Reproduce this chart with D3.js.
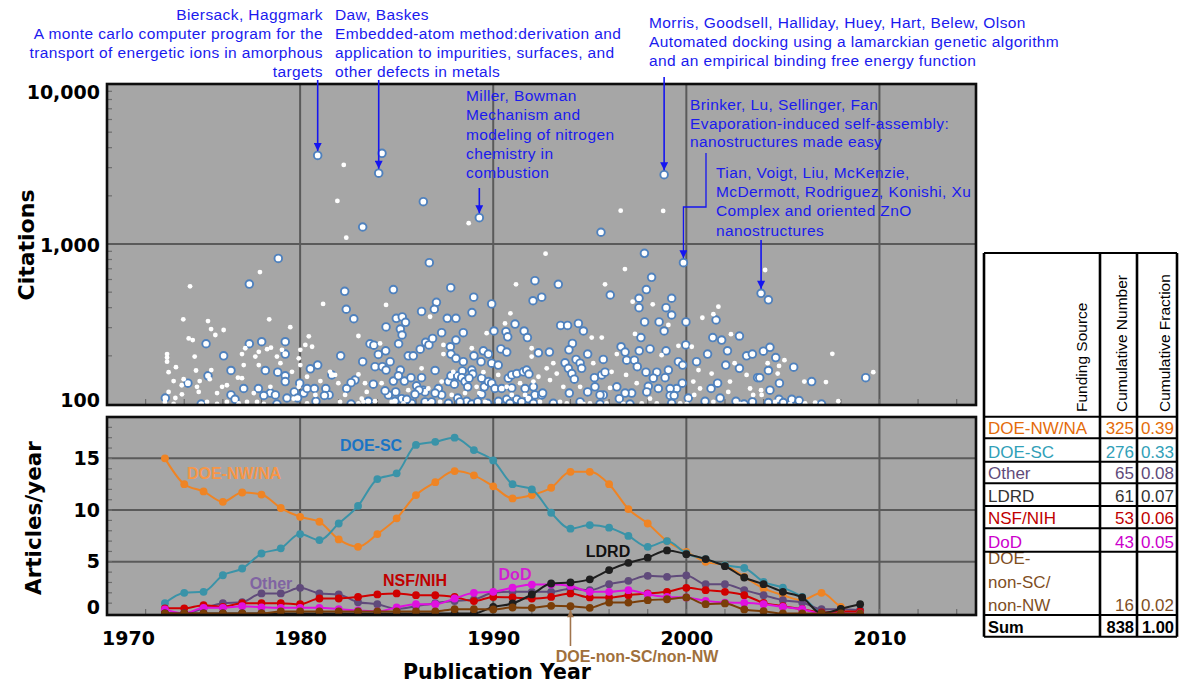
<!DOCTYPE html>
<html>
<head>
<meta charset="utf-8">
<script src="https://cdn.jsdelivr.net/npm/d3@7"></script>
<style>
  body { margin: 0; background: #fff; }
  svg { display: block; }
</style>
</head>
<body>
<svg id="chart" width="1180" height="685"></svg>
<script>
// ---------------- data ----------------
// Articles per publication year, by funding source
const years = [1973,1974,1975,1976,1977,1978,1979,1980,1981,1982,1983,1984,1985,1986,1987,1988,1989,1990,
  1991,1992,1993,1994,1995,1996,1997,1998,1999,2000,2001,2002,2003,2004,2005,2006,2007,2008,2009];
const doeNwNa = [15.0,12.5,11.8,10.8,11.7,11.5,10.2,9.35,8.87,7.16,6.45,7.68,9.2,11.45,12.7,13.77,13.36,12.3,
  11.13,11.45,12.16,13.7,13.7,12.5,10.1,8.7,7.0,5.96,5.0,4.67,3.55,2.42,1.77,1.29,2.0,0.64,0.0];
const doeSc = [1.0,2.0,2.1,3.7,4.35,5.8,6.3,7.68,7.1,8.7,10.4,13.0,13.55,16.3,16.6,17.0,15.8,14.8,
  12.5,12.0,9.74,8.2,8.55,8.3,7.5,6.45,7.0,5.8,5.26,4.67,4.4,3.06,2.5,1.6,0.2,0.15,0.3];
const otherSrc = [0,0,0.5,1.0,1.1,1.94,1.94,2.48,1.94,1.84,1.09,0.9,0.45,0.7,1.0,1.2,1.35,2.0,
  2.1,2.1,2.1,2.4,2.25,2.84,3.16,3.64,3.55,3.68,2.84,2.84,2.26,1.77,1.29,1.06,0.42,0.42,0.32];
const ldrd = [0,0,0,0,0,0,0,0,0,0,0,0,0,0,0,0,0,0.64,
  0.97,1.84,2.9,3.0,3.3,4.2,4.9,5.4,6.1,5.74,5.26,4.58,3.48,2.84,2.1,1.55,0,0.45,0.9];
const nsfNih = [0.5,0.5,0.8,0.64,1.0,1.0,1.0,0.9,1.45,1.45,1.6,1.84,1.94,1.77,1.77,1.6,1.2,1.6,
  1.55,1.45,1.6,1.94,1.55,1.55,1.77,1.94,2.1,2.48,2.26,2.1,1.77,1.03,0.71,0.42,0.1,0.2,0.2];
const dod = [0.4,0,0.55,0.55,0.7,0.6,0.55,0.55,0.55,0.42,0.3,0.2,0.6,0.9,0.9,1.45,2.0,2.1,
  2.5,2.8,2.8,2.67,2.1,2.1,2.26,1.87,1.6,1.55,1.22,1.06,1.03,0.9,0.64,0.42,0,0,0];
const doeNonScNonNw = [0,0,0,0,0,0,0.2,0.2,0.2,0.2,0.2,0.2,0.2,0.2,0.2,0.42,0.42,0.39,
  0.58,0.55,0.74,0.7,0.55,1.06,1.06,1.29,1.38,1.55,0.9,0.97,0.39,0.22,0,0,0,0,0];

// Individual articles: [publication year, citations]
const ringedArticles = [
  [1980.91,3580],[1984.07,2770],[1984.24,3690],[1989.28,1460],[1986.38,1840],[1998.85,2710],[1995.58,1184],
  [1999.85,764],[1997.83,875],[2003.87,492],[2004.25,448],[1983.24,1277],[1978.87,812],[1977.37,562],
  [1982.31,506],[1984.83,519],[1982.39,391],[1982.78,341],[1986.69,764],[1987.8,533],[1992.16,590],
  [1987.06,432],[1986.95,391],[1988.99,465],[1989.92,422],[1988.9,373],[1986.29,379],[1987.62,343],
  [1988.07,343],[1984.98,343],[1985.29,350],[1985.46,324],[1984.45,303],[1985.19,294],[1985.28,270],
  [1985.1,238],[1983.62,238],[1983.82,233],[1984.05,204],[1984.43,215],[1982.1,200],[1983.24,184],
  [1983.88,171],[1984.26,171],[1984.66,184],[1985.6,200],[1985.86,200],[1986.22,220],[1986.5,243],
  [1986.67,234],[1986.86,257],[1987.33,279],[1988.45,279],[1988.07,251],[1987.78,228],[1987.81,205],
  [1988.07,193],[1988.45,184],[1989.0,200],[1989.37,184],[1989.49,215],[1989.75,205],[1990.04,286],
  [1989.92,180],[1990.26,175],[1990.4,221],[1990.7,211],[1990.66,283],[1990.75,263],[1991.13,316],
  [1991.6,286],[1991.77,260],[1992.06,442],[1992.51,465],[1992.34,209],[1981.64,152],[1982.84,141],
  [1982.64,136],[1982.41,125],[1983.79,133],[1984.45,163],[1985.19,163],[1984.83,139],[1985.09,150],
  [1985.4,139],[1985.74,146],[1986.03,130],[1986.29,146],[1986.38,122],[1986.99,162],[1987.16,125],
  [1987.68,138],[1987.81,150],[1987.99,133],[1988.16,150],[1988.4,161],[1988.37,146],[1988.54,138],
  [1988.89,163],[1988.94,154],[1988.75,145],[1988.68,128],[1989.4,145],[1989.54,128],[1989.75,138],
  [1989.92,135],[1990.09,125],[1990.44,125],[1990.78,145],[1990.96,152],[1991.22,155],[1991.56,159],
  [1991.73,163],[1991.85,154],[1991.65,125],[1992.08,128],[1992.16,114],[1990.96,126],[1991.22,107],
  [1990.7,107],[1990.27,104],[1989.71,101],[1989.4,115],[1988.63,104],[1988.16,109],[1987.33,114],
  [1986.99,117],[1986.47,119],[1986.16,122],[1985.95,115],[1985.26,108],[1984.91,104],[1984.57,114],
  [1984.4,121],[1984.95,119],[1982.64,100],[1981.5,114],[1985.78,101],[1986.47,103],[1987.68,101],
  [1988.89,100],[1990.87,101],[1991.82,108],[1992.51,114],[1992.08,101],
  [1983.53,104],[1985.52,107],[1986.81,103],[1988.28,103],[1989.2,103],[1991.47,103],
  [1975.13,238],[1977.37,238],[1978.01,245],[1979.23,245],[1979.23,205],[1976.04,200],[1976.42,162],
  [1978.2,162],[1978.84,158],[1979.23,150],[1979.23,138],[1975.23,150],[1974.19,135],[1979.98,135],
  [1980.53,166],[1980.91,175],[1977.08,125],[1977.84,125],[1978.46,117],[1978.12,113],[1978.72,114],
  [1976.42,114],[1976.63,107],[1979.32,109],[1979.7,119],[1980.19,117],[1980.36,125],[1980.74,125],
  [1981.33,125],[1979.87,109],[1980.82,104],[1981.26,113],[1973.02,109],[1974.88,100],[1978.8,100],
  [1998.2,619],[1997.93,519],[1993.37,560],[1996.06,480],[1997.55,458],[1997.55,400],[1999.24,458],
  [1998.95,400],[1999.24,360],[1997.84,326],[1998.59,326],[1998.85,286],[1999.98,326],[1994.41,319],
  [1994.67,286],[1993.49,310],[1993.85,310],[1994.1,239],[1993.92,218],[1992.91,211],[1994.89,205],
  [1995.7,190],[1993.72,181],[1994.29,190],[1994.5,180],[1994.58,167],[1993.89,167],[1994.07,155],
  [1994.2,143],[1995.24,146],[1995.62,152],[1995.79,158],[1996.62,228],[1996.83,211],[1997.56,215],
  [1997.65,260],[1998.12,221],[1998.95,215],[1999.97,234],[1996.91,188],[1997.31,188],[1997.46,171],
  [1997.91,158],[1998.47,158],[1998.29,145],[1998.9,146],[1999.07,163],[1999.59,184],[1999.81,175],
  [1999.79,135],[2001.37,260],[2001.83,251],[2001.54,335],[2002.75,266],[2002.13,215],[2001.1,205],
  [2000.53,184],[2002.04,175],[2003.12,200],[2003.42,205],[2002.75,167],[2003.69,146],[2001.62,135],
  [2001.28,125],[2001.75,109],[2000.97,104],[2002.57,104],[2002.99,100],[2003.42,103],[2000.1,109],
  [1999.5,125],[1999.16,125],[1999.16,113],[1999.37,113],[1998.55,125],[1998.03,129],[1997.95,119],
  [1997.17,117],[1996.83,117],[1996.53,108],[1996.4,128],[1995.7,114],[1995.53,114],[1995.27,128],
  [1994.89,119],[1993.94,117],[1994.5,103],[1993.11,101],[1992.56,117],[1995.53,100],[1997.08,100],
  [1999.24,101],
  [2003.99,214],[2004.33,226],[2004.63,195],[2005.56,170],[2004.25,162],[2003.8,146],[2004.82,135],
  [2006.49,138],[2009.29,146],[2004.33,122],[2004.8,107],[2005.46,107],[2005.84,105],[2005.02,102],
  [2004.25,102],[2007.0,100]
];
const plainArticles = [
  [1982.26,3120],[1981.93,1858],[1982.39,1095],[1988.73,1350],[1996.6,1615],[1998.8,1610],[2004.08,688],
  [1977.92,668],[1974.3,544],[1981.19,422],[1992.71,870],
  [1973.95,338],[1975.23,330],[1978.4,338],[1975.39,294],[1975.61,270],[1976.04,290],[1979.49,302],
  [1974.23,257],[1974.44,251],[1980.45,265],[1973.11,205],[1973.11,195],[1973.11,184],[1974.54,198],
  [1973.19,158],[1973.57,170],[1974.61,162],[1975.4,163],[1973.45,139],[1973.97,143],[1974.8,139],
  [1975.32,143],[1976.99,205],[1977.16,223],[1977.68,198],[1977.86,212],[1978.29,220],[1978.49,225],
  [1978.8,198],[1979.06,218],[1978.98,180],[1977.86,175],[1977.08,175],[1976.78,146],[1976.99,145],
  [1975.96,128],[1976.21,131],[1975.7,117],[1974.66,128],[1974.75,119],[1973.88,115],[1973.54,109],
  [1973.19,119],[1980.01,218],[1980.27,234],[1980.62,228],[1979.93,193],[1980.01,175],[1979.58,159],
  [1980.36,148],[1979.93,128],[1981.05,139],[1980.79,114],[1977.6,117],[1977.77,103],[1976.21,103],
  [1977.25,103],[1975.7,100],[1973.45,100],[1979.67,108],[1978.46,128],[1973.0,103],[1973.87,131],
  [1975.18,103],[1976.82,101],[1978.12,100],[1980.36,101],
  [1991.18,560],[1984.45,416],[1986.73,351],[1983.02,266],[1984.14,239],[1989.66,277],[1990.89,369],
  [1990.61,319],[1987.42,234],[1987.42,205],[1988.89,223],[1991.99,198],[1991.99,223],[1983.02,153],
  [1981.98,135],[1981.81,152],[1983.36,135],[1983.45,119],[1984.22,135],[1983.19,108],[1982.33,114],
  [1985.6,122],[1986.29,167],[1986.64,125],[1987.33,138],[1987.93,159],[1989.49,158],[1989.28,117],
  [1990.26,152],[1992.34,148],[1992.08,138],[1991.39,135],[1990.7,128],[1989.14,128],[1988.54,117],
  [1987.85,114],[1986.64,101],[1984.74,103],[1983.88,104],[1983.28,103],[1982.07,103],[1981.55,159],
  [1989.58,103],[1990.96,114],[1991.65,114],
  [1983.02,101],[1985.35,101],[1987.25,103],[1988.28,100],[1990.26,101],[1991.47,100],[1992.42,103],
  [1996.82,697],[1995.79,560],[1998.26,420],[1997.22,436],[2001.66,406],[2000.83,346],[2001.4,364],
  [2002.31,273],[1999.07,312],[1995.62,260],[1995.1,260],[1997.34,274],[1996.4,205],[1998.72,202],
  [1999.59,231],[2000.28,228],[2000.63,163],[2001.31,155],[2002.26,138],[2003.12,152],[2003.3,125],
  [2002.5,180],[1993.11,180],[1992.77,167],[1993.29,155],[1992.94,141],[1993.63,128],[1995.18,180],
  [1996.13,159],[1996.88,152],[1994.5,128],[1996.05,126],[1997.43,135],[2000.36,138],[2000.71,125],
  [2002.17,119],[2000.41,114],[1998.12,108],[1995.87,101],[1997.69,101],[1993.81,101],[1995.01,101],
  [2000.02,100],[2003.46,114],
  [1993.46,103],[1994.67,100],[1996.74,100],[1998.47,101],[1999.68,101],[2001.4,103],[2002.78,100],
  [2007.56,206],[2009.68,158],[2005.08,188],[2004.8,173],[2004.73,155],[2006.11,138],[2007.23,137],
  [2004.21,180],[2003.87,122],[2003.9,114],[2006.67,102],[2007.87,104],[2005.38,100],
  [2004.6,103],[2006.15,101]
];

// Highly cited papers with their authors and titles
const notedPapers = [
  { year: 1980.91, citations: 3580, lines: ["Biersack, Haggmark", "A monte carlo computer program for the",
      "transport of energetic ions in amorphous", "targets"] },
  { year: 1984.07, citations: 2770, lines: ["Daw, Baskes", "Embedded-atom method:derivation and",
      "application to impurities, surfaces, and", "other defects in metals"] },
  { year: 1989.28, citations: 1460, lines: ["Miller, Bowman", "Mechanism and", "modeling of nitrogen",
      "chemistry in", "combustion"] },
  { year: 1998.85, citations: 2710, lines: ["Morris, Goodsell, Halliday, Huey, Hart, Belew, Olson",
      "Automated docking using a lamarckian genetic algorithm", "and an empirical binding free energy function"] },
  { year: 1999.85, citations: 764, lines: ["Brinker, Lu, Sellinger, Fan", "Evaporation-induced self-assembly:",
      "nanostructures made easy"] },
  { year: 2003.87, citations: 492, lines: ["Tian, Voigt, Liu, McKenzie,", "McDermott, Rodriguez, Konishi, Xu",
      "Complex and oriented ZnO", "nanostructures"] }
];

// Tick labels
const yearTicks = [1970, 1980, 1990, 2000, 2010];
const citationTicks = [100, 1000, 10000];
const articleTicks = [0, 5, 10, 15];

// Summary table
const fundingSources = ["DOE-NW/NA", "DOE-SC", "Other", "LDRD", "NSF/NIH", "DoD", "DOE-non-SC/non-NW"];
const cumulativeNumbers = [325, 276, 65, 61, 53, 43, 16];
const cumulativeFractions = ["0.39", "0.33", "0.08", "0.07", "0.06", "0.05", "0.02"];
const totalNumber = 838;
const totalFraction = "1.00";

// ---------------- layout ----------------
const svg = d3.select("#chart");
const X0 = 107, X1 = 976;
const TOP0 = 84, TOP1 = 405, BOT0 = 417, BOT1 = 615;
const x = d3.scaleLinear().domain([1970, 2015]).range([X0, X1]);
const yCit = d3.scaleLog().domain([100, 10000]).range([404, TOP0]);
const yArt = d3.scaleLinear().domain([0, 19]).range([613.5, BOT0]);

const boldFont = "'DejaVu Sans', sans-serif";
const textFont = "'Liberation Sans', Arial, sans-serif";
const gridColor = "#5a5a5a";
const plotBg = "#a6a6a6";

const defs = svg.append("defs");
defs.append("clipPath").attr("id", "clipTop").append("rect")
  .attr("x", X0).attr("y", TOP0).attr("width", X1 - X0).attr("height", TOP1 - TOP0);
defs.append("clipPath").attr("id", "clipBot").append("rect")
  .attr("x", X0).attr("y", BOT0).attr("width", X1 - X0).attr("height", BOT1 - BOT0);
function arrowMarker(id, color, w, h) {
  defs.append("marker").attr("id", id).attr("viewBox", "0 0 10 10")
    .attr("refX", 10).attr("refY", 5).attr("markerUnits", "userSpaceOnUse")
    .attr("markerWidth", w).attr("markerHeight", h).attr("orient", "auto")
    .append("path").attr("d", "M0,0 L10,5 L0,10 Z").attr("fill", color);
}
arrowMarker("arrowBlue", "#1515f0", 10, 8);
arrowMarker("arrowBrown", "#a0744c", 9, 7);

// panel backgrounds
svg.append("rect").attr("x", X0).attr("y", TOP0).attr("width", X1 - X0).attr("height", TOP1 - TOP0).attr("fill", plotBg);
svg.append("rect").attr("x", X0).attr("y", BOT0).attr("width", X1 - X0).attr("height", BOT1 - BOT0).attr("fill", plotBg);

// gridlines
const gridYears = [1980, 1990, 2000, 2010];
const grid = svg.append("g").attr("stroke", gridColor).attr("stroke-width", 2);
grid.selectAll(".vt").data(gridYears).join("line")
  .attr("x1", d => x(d)).attr("x2", d => x(d)).attr("y1", TOP0).attr("y2", TOP1);
grid.selectAll(".vb").data(gridYears).join("line")
  .attr("x1", d => x(d)).attr("x2", d => x(d)).attr("y1", BOT0).attr("y2", BOT1);
grid.append("line").attr("x1", X0).attr("x2", X1).attr("y1", yCit(1000)).attr("y2", yCit(1000));
grid.selectAll(".hb").data([5, 10, 15]).join("line")
  .attr("x1", X0).attr("x2", X1).attr("y1", d => yArt(d)).attr("y2", d => yArt(d));

// minor ticks inside the frames
const minorCit = [200,300,400,500,600,700,800,900,2000,3000,4000,5000,6000,7000,8000,9000];
const minorArt = d3.range(1, 19);
const minorYears = d3.range(1972, 2015, 2);
const ticksG = svg.append("g").attr("stroke", "#6e6e6e").attr("stroke-width", 1.2);
ticksG.selectAll(".mc").data(minorCit).join("line")
  .attr("x1", X0).attr("x2", X0 + 5).attr("y1", d => yCit(d)).attr("y2", d => yCit(d));
ticksG.selectAll(".ma").data(minorArt).join("line")
  .attr("x1", X0).attr("x2", X0 + 5).attr("y1", d => yArt(d)).attr("y2", d => yArt(d));
ticksG.selectAll(".myt").data(minorYears).join("line")
  .attr("x1", d => x(d)).attr("x2", d => x(d)).attr("y1", TOP1).attr("y2", TOP1 - 6);
ticksG.selectAll(".myb").data(minorYears).join("line")
  .attr("x1", d => x(d)).attr("x2", d => x(d)).attr("y1", BOT1).attr("y2", BOT1 - 6);

// ---------------- citation scatter ----------------
const scatter = svg.append("g").attr("clip-path", "url(#clipTop)");
scatter.selectAll(".ring").data(ringedArticles).join("circle")
  .attr("cx", d => x(d[0])).attr("cy", d => yCit(d[1])).attr("r", 3.8)
  .attr("fill", "#ffffff").attr("stroke", "#4f81bd").attr("stroke-width", 1.9);
scatter.selectAll(".dot").data(plainArticles).join("circle")
  .attr("cx", d => x(d[0])).attr("cy", d => yCit(d[1])).attr("r", 2.4)
  .attr("fill", "#ffffff");

// ---------------- articles per year ----------------
const seriesList = [
  { name: "DOE-NW/NA", values: doeNwNa, color: "#ef8424" },
  { name: "DOE-SC", values: doeSc, color: "#3a93a8" },
  { name: "Other", values: otherSrc, color: "#604a7b" },
  { name: "NSF/NIH", values: nsfNih, color: "#d00000" },
  { name: "DoD", values: dod, color: "#e010e0" },
  { name: "LDRD", values: ldrd, color: "#1e1e1e" },
  { name: "DOE-non-SC/non-NW", values: doeNonScNonNw, color: "#7a3e08" }
];
const lineGen = d3.line().x((d, i) => x(years[i])).y(d => yArt(d)).curve(d3.curveMonotoneX);
const linesG = svg.append("g").attr("clip-path", "url(#clipBot)");
seriesList.forEach(s => {
  const g = linesG.append("g");
  g.append("path").datum(s.values).attr("d", lineGen)
    .attr("fill", "none").attr("stroke", s.color).attr("stroke-width", 2);
  g.selectAll("circle").data(s.values).join("circle")
    .attr("cx", (d, i) => x(years[i])).attr("cy", d => yArt(d)).attr("r", 3.9)
    .attr("fill", s.color);
});

// frames
[[TOP0, TOP1], [BOT0, BOT1]].forEach(([a, b]) => {
  svg.append("rect").attr("x", X0).attr("y", a).attr("width", X1 - X0).attr("height", b - a)
    .attr("fill", "none").attr("stroke", "#0d0d0d").attr("stroke-width", 2.6);
});

// series labels
const seriesLabels = [
  { text: "DOE-SC", x: 371, y: 451, color: "#1a74c4" },
  { text: "DOE-NW/NA", x: 234, y: 479, color: "#f79646" },
  { text: "Other", x: 271, y: 589, color: "#8064a2" },
  { text: "NSF/NIH", x: 415, y: 586, color: "#c00000" },
  { text: "DoD", x: 515, y: 580, color: "#d21ed2" },
  { text: "LDRD", x: 608, y: 557, color: "#111111" },
  { text: "DOE-non-SC/non-NW", x: 637, y: 662, color: "#a0703c" }
];
svg.append("g").selectAll("text").data(seriesLabels).join("text")
  .attr("x", d => d.x).attr("y", d => d.y).attr("text-anchor", "middle")
  .attr("font-family", textFont).attr("font-weight", "bold").attr("font-size", 16)
  .attr("fill", d => d.color).text(d => d.text);
// pointer from the DOE-non-SC/non-NW label to its curve
const iPointer = years.indexOf(1994);
svg.append("line")
  .attr("x1", x(years[iPointer])).attr("x2", x(years[iPointer]))
  .attr("y1", 646).attr("y2", yArt(doeNonScNonNw[iPointer]) + 4)
  .attr("stroke", "#a0744c").attr("stroke-width", 1.6).attr("marker-end", "url(#arrowBrown)");

// ---------------- axes ----------------
function styleAxis(g) {
  g.select(".domain").remove();
  g.selectAll(".tick line").remove();
  g.selectAll("text").attr("font-family", boldFont).attr("font-weight", "bold")
    .attr("font-size", 19).attr("fill", "#000");
}
svg.append("g").attr("transform", `translate(${X0},0)`)
  .call(d3.axisLeft(yCit).tickValues(citationTicks).tickFormat(d3.format(",")).tickSize(0).tickPadding(7))
  .call(styleAxis)
  .selectAll("text").attr("y", d => d === 10000 ? 8 : d === 100 ? -4 : 1);
svg.append("g").attr("transform", `translate(${X0},0)`)
  .call(d3.axisLeft(yArt).tickValues(articleTicks).tickFormat(d3.format("d")).tickSize(0).tickPadding(7))
  .call(styleAxis)
  .selectAll("text").attr("y", d => d === 0 ? -6 : 0);
svg.append("g").attr("transform", `translate(0,${BOT1})`)
  .call(d3.axisBottom(x).tickValues(yearTicks).tickFormat(d3.format("d")).tickSize(0).tickPadding(17))
  .call(styleAxis)
  .selectAll("text").attr("x", d => d === 1970 ? 21 : 0);

// axis titles
svg.append("text").attr("transform", "translate(26,245) rotate(-90)")
  .attr("text-anchor", "middle").attr("dy", "0.35em")
  .attr("font-family", boldFont).attr("font-weight", "bold").attr("font-size", 22).text("Citations");
svg.append("text").attr("transform", "translate(33,518) rotate(-90)")
  .attr("text-anchor", "middle").attr("dy", "0.35em")
  .attr("font-family", boldFont).attr("font-weight", "bold").attr("font-size", 21.5).text("Articles/year");
svg.append("text").attr("x", 497).attr("y", 679).attr("text-anchor", "middle")
  .attr("font-family", boldFont).attr("font-weight", "bold").attr("font-size", 20.5).text("Publication Year");

// ---------------- paper annotations ----------------
const noteLayout = [
  { anchor: "end", tx: 323, ty: 20, step: 19, from: 80 },
  { anchor: "start", tx: 335, ty: 20, step: 19, from: 80 },
  { anchor: "start", tx: 466, ty: 101, step: 19.3, from: 188 },
  { anchor: "start", tx: 649, ty: 28, step: 19, from: 77 },
  { anchor: "start", tx: 690, ty: 110, step: 18.6, elbow: { x: 706, y0: 153, y1: 207 } },
  { anchor: "start", tx: 716, ty: 178, step: 19.2, from: 240 }
];
const notes = svg.append("g");
notedPapers.forEach((p, i) => {
  const L = noteLayout[i];
  const t = notes.append("text").attr("text-anchor", L.anchor)
    .attr("font-family", textFont).attr("font-size", 15.5).attr("letter-spacing", 0.4)
    .attr("fill", "#1a1aee");
  p.lines.forEach((line, k) => {
    t.append("tspan").attr("x", L.tx).attr("y", L.ty + k * L.step).text(line);
  });
  const px = x(p.year), py = yCit(p.citations) - 4.5;
  let d;
  if (L.elbow) {
    d = `M${L.elbow.x},${L.elbow.y0} V${L.elbow.y1} H${px} V${py}`;
  } else {
    d = `M${px},${L.from} V${py}`;
  }
  notes.append("path").attr("d", d).attr("fill", "none")
    .attr("stroke", "#1515f0").attr("stroke-width", L.elbow ? 1.3 : 1.6)
    .attr("marker-end", "url(#arrowBlue)");
});

// ---------------- summary table ----------------
const tableColors = ["#e46c0a", "#31a0b8", "#5f4b7a", "#333333", "#c00000", "#cc00cc", "#7f4f1f"];
const colX = [984, 1100, 1137, 1177];
const headTop = 253;
const rowEdges = [416.7, 438.3, 461.7, 483.3, 506, 528.3, 551.7, 615, 636.7];
const table = svg.append("g").attr("font-family", textFont);
table.append("rect").attr("x", colX[0]).attr("y", headTop).attr("width", colX[3] - colX[0])
  .attr("height", rowEdges[rowEdges.length - 1] - headTop).attr("fill", "#fff");

// headers, reading upward
const headers = [["Funding Source", 1087], ["Cumulative Number", 1127], ["Cumulative Fraction", 1170]];
headers.forEach(([label, hx]) => {
  table.append("text").attr("transform", `translate(${hx},412) rotate(-90)`)
    .attr("font-size", 15.5).attr("fill", "#000").text(label);
});

fundingSources.forEach((src, i) => {
  const bottom = rowEdges[i + 1];
  const base = bottom - 4;
  const color = tableColors[i];
  const parts = src === "DOE-non-SC/non-NW" ? ["DOE-", "non-SC/", "non-NW"] : [src];
  parts.forEach((part, k) => {
    table.append("text").attr("x", colX[0] + 4).attr("y", base - (parts.length - 1 - k) * 23.3)
      .attr("font-size", 17).attr("fill", color).text(part);
  });
  table.append("text").attr("x", colX[2] - 3).attr("y", base).attr("text-anchor", "end")
    .attr("font-size", 17).attr("fill", color).text(cumulativeNumbers[i]);
  table.append("text").attr("x", colX[3] - 3).attr("y", base).attr("text-anchor", "end")
    .attr("font-size", 17).attr("fill", color).text(cumulativeFractions[i]);
});
{
  const base = rowEdges[8] - 4;
  table.append("text").attr("x", colX[0] + 4).attr("y", base).attr("font-size", 16.5)
    .attr("font-weight", "bold").text("Sum");
  table.append("text").attr("x", colX[2] - 3).attr("y", base).attr("text-anchor", "end")
    .attr("font-size", 16.5).attr("font-weight", "bold").text(totalNumber);
  table.append("text").attr("x", colX[3] - 3).attr("y", base).attr("text-anchor", "end")
    .attr("font-size", 16.5).attr("font-weight", "bold").text(totalFraction);
}
// grid lines of the table
const tLines = table.append("g").attr("stroke", "#000");
[headTop].concat(rowEdges).forEach(yy => {
  tLines.append("line").attr("x1", colX[0]).attr("x2", colX[3]).attr("y1", yy).attr("y2", yy)
    .attr("stroke-width", 2);
});
colX.forEach(xx => {
  tLines.append("line").attr("x1", xx).attr("x2", xx).attr("y1", headTop).attr("y2", rowEdges[8])
    .attr("stroke-width", 2.6);
});
</script>
</body>
</html>
